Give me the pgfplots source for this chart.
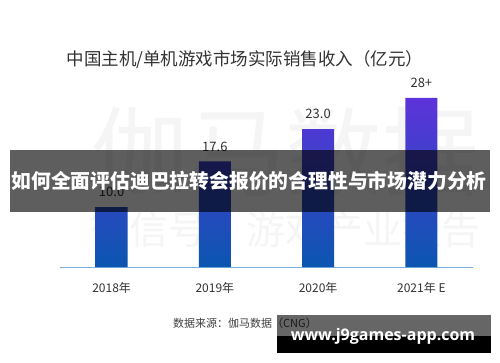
\documentclass[border=0pt]{standalone}
\usepackage{pgfplots}
\pgfplotsset{compat=1.18}
\usepackage{fontspec}
\setmainfont{Noto Sans CJK SC}
\newfontfamily\urlfont{Open Sans}
\definecolor{barTop}{HTML}{5C33DA}
\definecolor{barBot}{HTML}{0B56B0}
\definecolor{axisBlue}{HTML}{7AAFE0}
\definecolor{txt}{HTML}{333333}
\begin{document}
\begin{tikzpicture}[x=1pt,y=1pt]
\path[use as bounding box, fill=white] (0,0) rectangle (500,362);
% watermarks
\node[text=black!4, inner sep=0] at (285,210) {\fontsize{97}{97}\selectfont 伽马数据};
\node[text=black!4, inner sep=0] at (285,132) {\fontsize{39}{39}\selectfont 微信号：游戏产业报告};
% title
\node[text=txt] at (245,302) {\fontsize{17.5}{17.5}\selectfont 中国主机/单机游戏市场实际销售收入（亿元）};
\begin{axis}[
  at={(60pt,95pt)}, anchor=south west,
  scale only axis, width=413pt, height=180pt,
  xmin=-0.5, xmax=3.5, ymin=0, ymax=30,
  axis x line=bottom, axis y line=none,
  x axis line style={draw=axisBlue, line width=0.8pt, -},
  xtick={0,1,2,3},
  xticklabels={2018年,2019年,2020年,2021年 E},
  ytick={0,5,10,15,20,25,30},
  ymajorgrids, grid style={densely dotted, draw=black!22, line width=0.6pt},
  major tick length=0pt,
  yticklabel style={text=txt, font=\fontsize{12}{12}\selectfont, xshift=-10pt},
  xticklabel style={text=txt, font=\fontsize{12}{12}\selectfont, yshift=-12pt},
  /pgf/number format/assume math mode=true,
  yticklabel={\pgfmathprintnumber[fixed, fixed zerofill, precision=1]{\tick}},
  clip=false,
  ]
\addplot[ybar, bar width=32pt, draw=none, top color=barTop, bottom color=barBot,
  point meta=explicit symbolic,
  nodes near coords,
  nodes near coords style={anchor=center, yshift=15pt, text=txt, font=\fontsize{13}{13}\selectfont}]
  coordinates {(0,10.0)[10.0] (1,17.6)[17.6] (2,23.0)[23.0] (3,28.2)[28+]};
\end{axis}
% source
\node[text=black!75] at (245,39) {\fontsize{11}{11}\selectfont 数据来源：伽马数据（CNG）};
% overlay banner
\fill[black, opacity=0.63] (10,150) rectangle (490,212);
\node[text=white, inner sep=0] at (249,181) {\fontsize{19.8}{19.8}\selectfont\bfseries 如何全面评估迪巴拉转会报价的合理性与市场潜力分析};
% url banner
\fill[black, opacity=0.6] (277,26) rectangle (491,47);
\fill[black] (277,9) rectangle (491,26);
\node[text=white] at (383,26) {\urlfont\bfseries\fontsize{16}{16}\selectfont www.j9games-app.com};
\end{tikzpicture}
\end{document}
